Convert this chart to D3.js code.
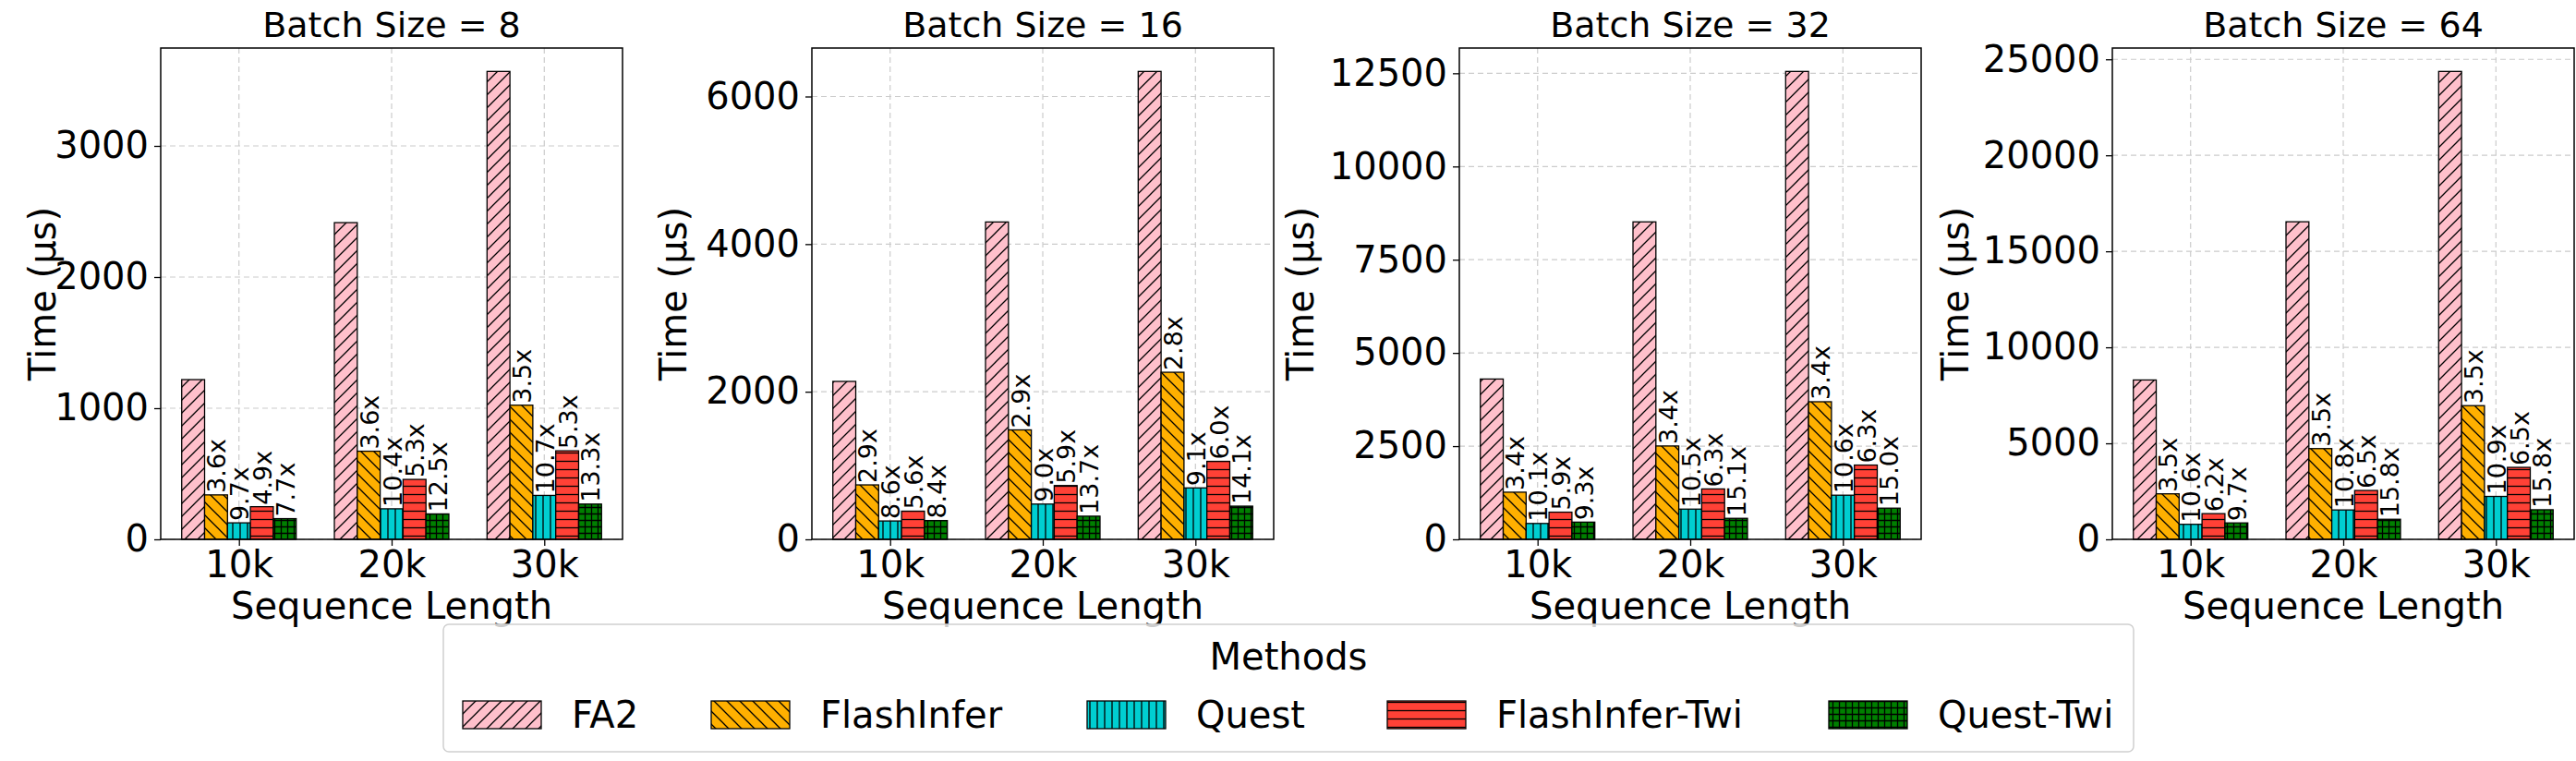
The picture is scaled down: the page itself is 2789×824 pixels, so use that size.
<!DOCTYPE html>
<html><head><meta charset="utf-8">
<script src="https://cdn.jsdelivr.net/npm/d3@7"></script>
<style>body{margin:0;background:#fff}svg{display:block;font-family:"DejaVu Sans",sans-serif}</style>
</head><body><svg id="c" width="2789" height="824"></svg>
<script>
const categories = ["10k","20k","30k"];
const methods = ["FA2","FlashInfer","Quest","FlashInfer-Twi","Quest-Twi"];
const batchSizes = [8,16,32,64];
// time values (µs) per panel: [method][category]
const bs8  = [[1218,2415,3568],[339,672,1023],[126,233,335],[249,457,675],[158,194,269]];
const bs16 = [[2140,4300,6340],[738,1483,2264],[249,478,697],[382,729,1057],[255,314,450]];
const bs32 = [[4300,8515,12550],[1265,2504,3691],[426,811,1184],[729,1352,1992],[462,564,837]];
const bs64 = [[8300,16540,24370],[2371,4726,6963],[783,1531,2236],[1339,2545,3749],[856,1047,1542]];
const speedup8  = [[3.6,3.6,3.5],[9.7,10.4,10.7],[4.9,5.3,5.3],[7.7,12.5,13.3]];
const speedup16 = [[2.9,2.9,2.8],[8.6,9.0,9.1],[5.6,5.9,6.0],[8.4,13.7,14.1]];
const speedup32 = [[3.4,3.4,3.4],[10.1,10.5,10.6],[5.9,6.3,6.3],[9.3,15.1,15.0]];
const speedup64 = [[3.5,3.5,3.5],[10.6,10.8,10.9],[6.2,6.5,6.5],[9.7,15.8,15.8]];
const yTicks8 = [0,1000,2000,3000];
const yTicks16 = [0,2000,4000,6000];
const yTicks32 = [0,2500,5000,7500,10000,12500];
const yTicks64 = [0,5000,10000,15000,20000,25000];

const panels = [
  {bs:8, data:bs8, sp:speedup8, ticks:yTicks8},
  {bs:16, data:bs16, sp:speedup16, ticks:yTicks16},
  {bs:32, data:bs32, sp:speedup32, ticks:yTicks32},
  {bs:64, data:bs64, sp:speedup64, ticks:yTicks64}
];
const lefts = [174,879,1580,2287], plotW = 500, plotTop = 52, plotBottom = 584;
const yLabelOff = [128,150,172,170];
const colors = ["#ffc0cb","#ffb000","#00ced1","#ff4136","#007f00"];

const svg = d3.select("#c");
const defs = svg.append("defs");
function pat(id, color, size, draw){
  const p = defs.append("pattern").attr("id",id).attr("patternUnits","userSpaceOnUse").attr("width",size).attr("height",size);
  p.append("rect").attr("width",size).attr("height",size).attr("fill",color);
  draw(p, size);
}
const ln = (p,d)=>p.append("path").attr("d",d).attr("stroke","#000").attr("stroke-width",1.3).attr("fill","none");
pat("h0",colors[0],14,(p,s)=>ln(p,`M0,${s}L${s},0M-2,2L2,-2M${s-2},${s+2}L${s+2},${s-2}`));
pat("h1",colors[1],14,(p,s)=>ln(p,`M0,0L${s},${s}M-2,${s-2}L2,${s+2}M${s-2},-2L${s+2},2`));
pat("h2",colors[2],8,(p,s)=>ln(p,`M${s/2},0V${s}`));
pat("h3",colors[3],9,(p,s)=>ln(p,`M0,${s/2}H${s}`));
pat("h4",colors[4],7,(p,s)=>ln(p,`M${s/2},0V${s}M0,${s/2}H${s}`));

const bw = 0.15;
panels.forEach((P,pi)=>{
  const g = svg.append("g");
  const L = lefts[pi];
  const maxV = d3.max(P.data[0]);
  const x = d3.scaleLinear().domain([-0.5125,2.5125]).range([L,L+plotW]);
  const y = d3.scaleLinear().domain([0,maxV*1.05]).range([plotBottom,plotTop]);
  g.selectAll(".gy").data(P.ticks).join("line").attr("x1",L).attr("x2",L+plotW)
    .attr("y1",d=>y(d)).attr("y2",d=>y(d)).attr("stroke","#cccccc").attr("stroke-dasharray","6,4").attr("stroke-width",1.2);
  g.selectAll(".gx").data(categories).join("line").attr("y1",plotTop).attr("y2",plotBottom)
    .attr("x1",(d,i)=>x(i)).attr("x2",(d,i)=>x(i)).attr("stroke","#cccccc").attr("stroke-dasharray","6,4").attr("stroke-width",1.2);
  methods.forEach((m,mi)=>{
    categories.forEach((c,ci)=>{
      const v = P.data[mi][ci];
      const x0 = x(ci + (mi-2.5)*bw), x1 = x(ci + (mi-1.5)*bw);
      g.append("rect").attr("x",x0).attr("width",x1-x0).attr("y",y(v)).attr("height",plotBottom-y(v))
        .attr("fill",`url(#h${mi})`).attr("stroke","#000").attr("stroke-width",1.3);
      if(mi>0){
        const cx = (x0+x1)/2;
        g.append("text").attr("transform",`translate(${cx+1},${y(v)-2}) rotate(-90)`)
          .attr("dominant-baseline","central").attr("font-size",27).text(P.sp[mi-1][ci].toFixed(1)+"x");
      }
    });
  });
  g.append("rect").attr("x",L).attr("y",plotTop).attr("width",plotW).attr("height",plotBottom-plotTop)
    .attr("fill","none").attr("stroke","#000").attr("stroke-width",1.5);
  const ya = g.append("g").attr("transform",`translate(${L},0)`)
    .call(d3.axisLeft(y).tickValues(P.ticks).tickFormat(d3.format("d")).tickSize(7).tickPadding(6));
  const xa = g.append("g").attr("transform",`translate(0,${plotBottom})`)
    .call(d3.axisBottom(x).tickValues([0,1,2]).tickFormat(i=>categories[i]).tickSize(7).tickPadding(6));
  [ya,xa].forEach(a=>{a.select(".domain").remove();
    a.selectAll("text").attr("font-size",40).attr("font-family","DejaVu Sans").attr("fill","#000");
    a.selectAll("line").attr("stroke","#000").attr("stroke-width",1.3);});
  g.append("text").attr("x",L+plotW/2).attr("y",40).attr("text-anchor","middle").attr("font-size",38).text(`Batch Size = ${P.bs}`);
  g.append("text").attr("x",L+plotW/2).attr("y",670).attr("text-anchor","middle").attr("font-size",40).text("Sequence Length");
  g.append("text").attr("transform",`translate(${L-yLabelOff[pi]},${(plotTop+plotBottom)/2}) rotate(-90)`)
    .attr("text-anchor","middle").attr("dominant-baseline","central").attr("font-size",40).text("Time (µs)");
});

const lg = svg.append("g");
lg.append("rect").attr("x",480).attr("y",676).attr("width",1830).attr("height",138).attr("rx",6)
  .attr("fill","#fff").attr("fill-opacity",0.8).attr("stroke","#d0d0d0").attr("stroke-width",1.5);
lg.append("text").attr("x",1395).attr("y",725).attr("text-anchor","middle").attr("font-size",40).text("Methods");
const legX = [501,770,1177,1502,1980];
methods.forEach((m,i)=>{
  lg.append("rect").attr("x",legX[i]).attr("y",759).attr("width",85).attr("height",30)
    .attr("fill",`url(#h${i})`).attr("stroke","#000").attr("stroke-width",1.3);
  lg.append("text").attr("x",legX[i]+118).attr("y",788).attr("font-size",40).text(m);
});
</script></body></html>
